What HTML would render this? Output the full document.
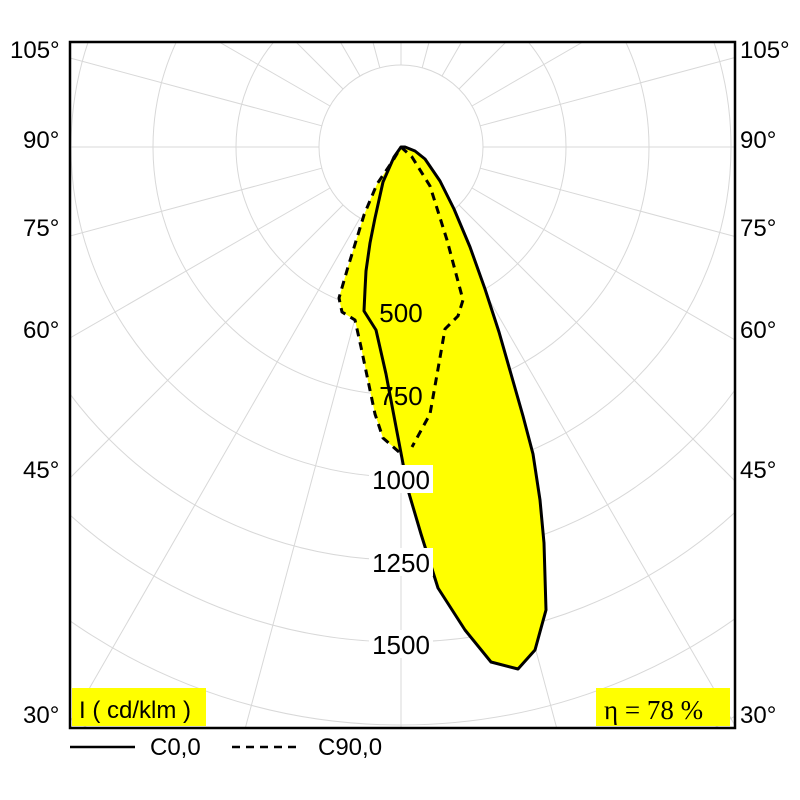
<!DOCTYPE html>
<html><head><style>html,body{margin:0;padding:0;background:#fff;width:800px;height:800px;overflow:hidden}svg{display:block}</style></head><body>
<svg width="800" height="800" viewBox="0 0 800 800" font-family="Liberation Sans, sans-serif" style="overflow:hidden">
<svg x="70" y="42" width="665" height="686" viewBox="70 42 665 686" style="overflow:hidden">
<g stroke="#d8d8d8" stroke-width="1" fill="none">
<circle cx="401" cy="147" r="82"/><circle cx="401" cy="147" r="165"/><circle cx="401" cy="147" r="248"/>
<circle cx="401" cy="147" r="330"/><circle cx="401" cy="147" r="413"/><circle cx="401" cy="147" r="495"/>
<circle cx="401" cy="147" r="578"/>
<path d="M735,716.2 A660,660 0 0 1 714.1,728 M87.9,728 A660,660 0 0 1 70,718"/>
<path d="M401,229L401,728 M422.2,226.2L556.7,728 M442,218L735,725.5 M459,205L735,481 M472,188L735,340 M480.2,168.2L735,236.5 M483,147L735,147 M480.2,125.8L735,57.5 M472,106L582.9,42 M459,89L506,42 M442,76L461.6,42 M422.2,67.8L429.1,42 M401,65L401,42
M379.8,226.2L245.3,728 M360,218L70,722 M343,205L70,478 M330,188L70,338 M321.8,168.2L70,236 M319,147L70,147 M321.8,125.8L70,58 M330,106L219.1,42 M343,89L296,42 M360,76L340.4,42 M379.8,67.8L372.9,42"/>
</g>
</svg>
<g fill="#ffff00" stroke="none">
<path d="M401,147 L405,147 415,151 425,159 440,181 454,209 470,247 485,289 499,332 511,374 523,416 533,454 540,500 544,543 546,610 535,650 518,669 491,662 465,630 438,588 421,534 408,490 397,432 386,374 376,330 364,311 365,290 366,271 370,243 375,218 383,182 394,157Z"/>
<path d="M401,147 L412,157 430,186 447,240 463,300 458,316 445,329 438,369 430,414 412,447 399,452 383,438 375,414 361,347 355,320 342,312 339,298 348,267 364,215 377,184 392,162Z"/>
</g>
<g fill="none" stroke="#000" stroke-width="3" stroke-linejoin="round">
<path d="M401,147 L405,147 415,151 425,159 440,181 454,209 470,247 485,289 499,332 511,374 523,416 533,454 540,500 544,543 546,610 535,650 518,669 491,662 465,630 438,588 421,534 408,490 397,432 386,374 376,330 364,311 365,290 366,271 370,243 375,218 383,182 394,157Z"/>
<path stroke-dasharray="8,6" d="M401,147 L412,157 430,186 447,240 463,300 458,316 445,329 438,369 430,414 412,447 M399,452 383,438 375,414 361,347 355,320 342,312 339,298 348,267 364,215 377,184 392,162 401,147"/>
</g>
<g fill="#fff"><rect x="369" y="465" width="64" height="28"/><rect x="369" y="548" width="64" height="28"/><rect x="369" y="630" width="64" height="28"/></g>
<g font-size="26" text-anchor="middle" fill="#000">
<text x="401" y="322">500</text><text x="401" y="405">750</text><text x="401" y="489">1000</text>
<text x="401" y="572">1250</text><text x="401" y="654">1500</text>
</g>
<rect x="70" y="42" width="665" height="686" fill="none" stroke="#000" stroke-width="2.5"/>
<g font-size="24" fill="#000">
<text x="10" y="58">105°</text><text x="23" y="148">90°</text><text x="23" y="236">75°</text><text x="23" y="338">60°</text><text x="23" y="478">45°</text><text x="23" y="723">30°</text>
<text x="740" y="58">105°</text><text x="740" y="148">90°</text><text x="740" y="236">75°</text><text x="740" y="338">60°</text><text x="740" y="478">45°</text><text x="740" y="723">30°</text>
</g>
<rect x="72" y="688" width="134" height="38" fill="#ffff00"/>
<text x="79" y="718" font-size="24">I ( cd/klm )</text>
<rect x="596" y="688" width="134" height="38" fill="#ffff00"/>
<text x="604" y="719" font-size="27" font-family="Liberation Serif, serif">η = 78 %</text>
<line x1="70" y1="747" x2="135" y2="747" stroke="#000" stroke-width="2.5"/>
<text x="150" y="755" font-size="24">C0,0</text>
<line x1="232" y1="747" x2="297" y2="747" stroke="#000" stroke-width="2.5" stroke-dasharray="8,6"/>
<text x="318" y="755" font-size="24">C90,0</text>
</svg>
</body></html>
